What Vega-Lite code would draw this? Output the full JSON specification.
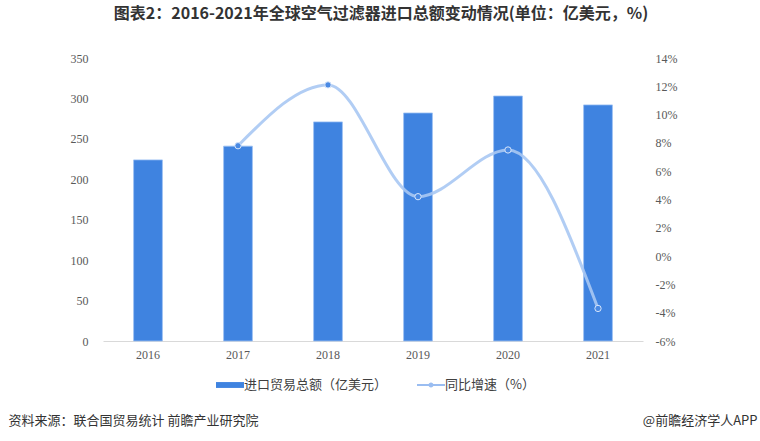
{
  "$schema": "https://vega.github.io/schema/vega-lite/v6.json",
  "autosize": {"type": "none"},
  "width": 540,
  "height": 283,
  "padding": {"left": 103, "top": 58, "right": 117, "bottom": 100},
  "background": "white",
  "title": {
    "text": "图表2：2016-2021年全球空气过滤器进口总额变动情况(单位：亿美元，%)",
    "font": "Noto Sans CJK SC",
    "fontSize": 16,
    "fontWeight": "bold",
    "color": "#333333",
    "anchor": "middle",
    "dx": 8,
    "offset": 30
  },
  "data": {
    "values": [
      {"year": "2016", "amount": 224, "growth": null},
      {"year": "2017", "amount": 241, "growth": 7.8},
      {"year": "2018", "amount": 271, "growth": 12.1},
      {"year": "2019", "amount": 282, "growth": 4.2},
      {"year": "2020", "amount": 303, "growth": 7.5},
      {"year": "2021", "amount": 292, "growth": -3.7}
    ]
  },
  "encoding": {
    "x": {
      "field": "year",
      "type": "ordinal",
      "scale": {"paddingInner": 0.68, "paddingOuter": 0.34},
      "axis": {
        "title": "资料来源：联合国贸易统计 前瞻产业研究院",
        "titleFont": "Noto Sans CJK SC",
        "titleFontSize": 13,
        "titleFontWeight": "normal",
        "titleColor": "#333333",
        "titleAlign": "left",
        "titleBaseline": "middle",
        "titleX": -95,
        "titleY": 79,
        "labelAngle": 0,
        "labelFont": "Liberation Serif",
        "labelFontSize": 12,
        "labelColor": "#595959",
        "labelPadding": 8,
        "ticks": false,
        "domainColor": "#d9d9d9",
        "grid": false
      }
    }
  },
  "layer": [
    {
      "mark": {"type": "bar", "color": "#3f83e0", "stroke": "#9cc0f2", "strokeWidth": 0.8},
      "encoding": {
        "y": {
          "field": "amount",
          "type": "quantitative",
          "scale": {"domain": [0, 350], "nice": false},
          "axis": {
            "title": null,
            "values": [0, 50, 100, 150, 200, 250, 300, 350],
            "labelFont": "Liberation Serif",
            "labelFontSize": 12,
            "labelColor": "#595959",
            "labelPadding": 15,
            "domain": false,
            "ticks": false,
            "grid": false
          }
        },
        "color": {
          "datum": "进口贸易总额（亿美元）",
          "scale": {
            "domain": ["进口贸易总额（亿美元）"],
            "range": ["#3f83e0"]
          },
          "legend": {
            "title": null,
            "orient": "none",
            "legendX": 113,
            "legendY": 313,
            "symbolSize": 784,
            "symbolType": "M-1,-0.21H1V0.21H-1Z",
            "symbolStrokeWidth": 0,
            "labelFont": "Noto Sans CJK SC",
            "labelFontSize": 13,
            "labelColor": "#404040",
            "labelOffset": 0
          }
        }
      }
    },
    {
      "transform": [{"filter": "datum.growth != null"}],
      "encoding": {
        "y": {
          "field": "growth",
          "type": "quantitative",
          "scale": {"domain": [-6, 14], "nice": false},
          "axis": {
            "orient": "right",
            "title": "@前瞻经济学人APP",
            "titleFont": "Noto Sans CJK SC",
            "titleFontSize": 13,
            "titleFontWeight": "normal",
            "titleColor": "#333333",
            "titleAngle": 0,
            "titleAlign": "right",
            "titleBaseline": "middle",
            "titleX": 114,
            "titleY": 362,
            "values": [-6, -4, -2, 0, 2, 4, 6, 8, 10, 12, 14],
            "labelExpr": "datum.value + '%'",
            "labelFont": "Liberation Serif",
            "labelFontSize": 12,
            "labelColor": "#595959",
            "labelPadding": 12,
            "domain": false,
            "ticks": false,
            "grid": false
          }
        }
      },
      "layer": [
        {
          "mark": {"type": "line", "interpolate": "monotone", "strokeWidth": 3, "opacity": 0.9},
          "encoding": {
            "color": {
              "datum": "同比增速（%）",
              "scale": {"domain": ["同比增速（%）"], "range": ["#a9c8f3"]},
              "legend": {
                "title": null,
                "orient": "none",
                "legendX": 314,
                "legendY": 313,
                "symbolSize": 784,
                "symbolType": "M-1,-0.07H1V0.07H-1Z M0.18,0A0.18,0.18,0,1,1,-0.18,0A0.18,0.18,0,1,1,0.18,0Z",
                "symbolFillColor": "#8fb6f0",
                "symbolStrokeWidth": 0,
                "labelFont": "Noto Sans CJK SC",
                "labelFontSize": 13,
                "labelColor": "#404040",
                "labelOffset": 0,
                "encode": {
                  "symbols": {
                    "update": {
                      "fill": {"value": "#8fb6f0"},
                      "strokeWidth": {"value": 0},
                      "opacity": {"value": 1}
                    }
                  }
                }
              }
            }
          }
        },
        {
          "mark": {"type": "point", "filled": true, "size": 40, "color": "#4a8ae4", "stroke": "#d6e5fb", "strokeWidth": 1, "opacity": 1}
        }
      ]
    }
  ],
  "resolve": {"scale": {"y": "independent", "color": "independent"}},
  "config": {
    "view": {"stroke": null}
  }
}
